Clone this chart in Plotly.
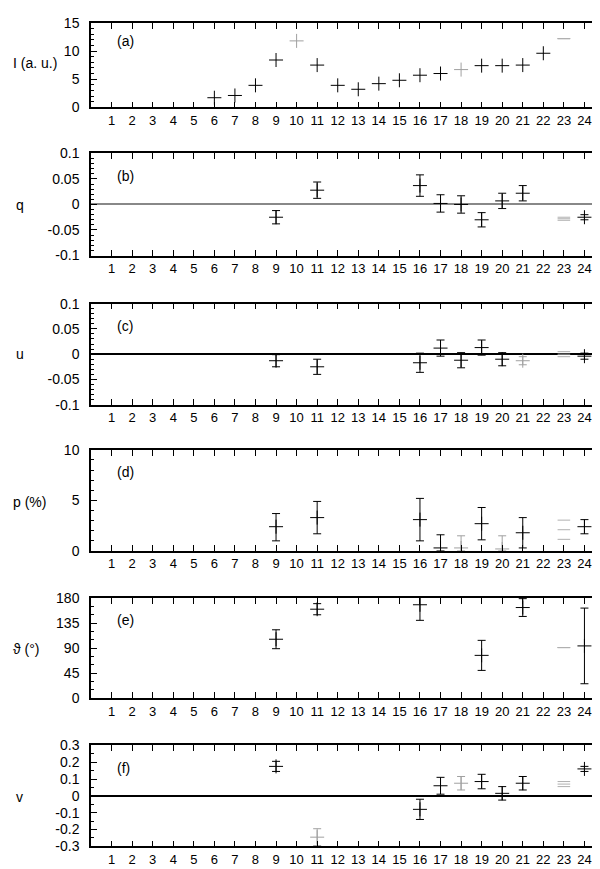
import plotly.graph_objects as go
from plotly.subplots import make_subplots

# every panel shares the same source numbers along x
x_ticks = list(range(1, 25))

# (a) intensity, arbitrary units
x_I = [6, 7, 8, 9, 10, 11, 12, 13, 14, 15, 16, 17, 18, 19, 20, 21, 22, 23]
I_val = [1.7, 2.1, 3.9, 8.4, 11.8, 7.5, 3.9, 3.2, 4.2, 4.8, 5.7, 6.0, 6.7, 7.4, 7.4, 7.5, 9.6, 12.2]
I_style = ["k", "k", "k", "k", "g", "k", "k", "k", "k", "k", "k", "k", "g", "k", "k", "k", "k", "h"]

# (b) q
x_q = [9, 11, 16, 17, 18, 19, 20, 21, 23, 24]
q_val = [-0.025, 0.028, 0.037, 0.002, 0.0, -0.030, 0.007, 0.022, -0.028, -0.025]
q_err = [0.013, 0.016, 0.021, 0.017, 0.017, 0.014, 0.015, 0.015, 0.003, 0.005]
q_style = ["k", "k", "k", "k", "k", "k", "k", "k", "h", "k"]

# (c) u
x_u = [9, 11, 16, 17, 18, 19, 20, 21, 23, 24]
u_val = [-0.013, -0.025, -0.017, 0.012, -0.012, 0.013, -0.010, -0.013, 0.0, -0.004]
u_err = [0.012, 0.015, 0.019, 0.016, 0.015, 0.015, 0.013, 0.008, 0.005, 0.006]
u_style = ["k", "k", "k", "k", "k", "k", "k", "g", "h", "k"]

# (d) p (%), lower bars stop at zero
x_p = [9, 11, 16, 17, 18, 19, 20, 21, 23, 24]
p_val = [2.4, 3.3, 3.1, 0.3, 0.3, 2.7, 0.2, 1.8, 2.1, 2.4]
p_err_up = [1.3, 1.6, 2.1, 1.3, 1.2, 1.6, 1.3, 1.5, 0.95, 0.7]
p_err_dn = [1.4, 1.6, 2.1, 0.3, 0.3, 1.6, 0.2, 1.5, 0.95, 0.7]
p_style = ["k", "k", "k", "k", "g", "k", "g", "k", "h", "k"]

# (e) polarisation angle (deg)
x_t = [9, 11, 16, 19, 21, 23, 24]
t_val = [106, 160, 168, 77, 163, 91, 94]
t_err = [17, 10, 28, 27, 16, 0, 68]
t_style = ["k", "k", "k", "k", "k", "h", "k"]

# (f) v
x_v = [9, 11, 16, 17, 18, 19, 20, 21, 23, 24]
v_val = [0.175, -0.245, -0.08, 0.06, 0.075, 0.085, 0.015, 0.075, 0.07, 0.16]
v_err = [0.03, 0.05, 0.06, 0.05, 0.04, 0.043, 0.04, 0.04, 0.015, 0.015]
v_style = ["k", "g", "k", "k", "g", "k", "k", "k", "h", "k"]

FONT = "Liberation Sans"
W, H = 600, 869

fig = make_subplots(rows=6, cols=1)


def add_points(row, xs, ys, up, dn, styles):
    for kind, color in (("k", "black"), ("g", "#a0a0a0")):
        idx = [i for i, s in enumerate(styles) if s == kind]
        if not idx:
            continue
        err = None
        if up is not None:
            err = dict(type="data", symmetric=False,
                       array=[up[i] for i in idx], arrayminus=[dn[i] for i in idx],
                       color=color, thickness=1, width=4)
        fig.add_trace(go.Scatter(
            x=[xs[i] for i in idx], y=[ys[i] for i in idx], mode="markers",
            marker=dict(symbol="cross-thin", size=10, line=dict(width=1, color=color)),
            error_y=err, hoverinfo="skip"), row=row, col=1)
    # faint points: only the caps and centre dash survive
    hx, hy = [], []
    for i, s in enumerate(styles):
        if s != "h":
            continue
        hx += [xs[i]] * 3
        if up is None:
            hy += [ys[i]] * 3
        else:
            hy += [ys[i], ys[i] + up[i], ys[i] - dn[i]]
    if hx:
        fig.add_trace(go.Scatter(
            x=hx, y=hy, mode="markers",
            marker=dict(symbol="line-ew", size=9, line=dict(width=1, color="#b0b0b0")),
            hoverinfo="skip"), row=row, col=1)


add_points(1, x_I, I_val, None, None, I_style)
add_points(2, x_q, q_val, q_err, q_err, q_style)
add_points(3, x_u, u_val, u_err, u_err, u_style)
add_points(4, x_p, p_val, p_err_up, p_err_dn, p_style)
add_points(5, x_t, t_val, t_err, t_err, t_style)
add_points(6, x_v, v_val, v_err, v_err, v_style)

# pixel rows of each panel frame (top, bottom)
panel_px = [(7, 93), (140, 244), (293, 396), (442, 545), (593, 695), (743, 846)]

yaxes = [
    dict(range=[0, 15], tickvals=[0, 5, 10, 15], ticktext=["0", "5", "10", "15"], minor_dtick=1, zero=None),
    dict(range=[-0.1, 0.1], tickvals=[-0.1, -0.05, 0, 0.05, 0.1],
         ticktext=["-0.1", "-0.05", "0", "0.05", "0.1"], minor_dtick=0.01, zero="#888888"),
    dict(range=[-0.1, 0.1], tickvals=[-0.1, -0.05, 0, 0.05, 0.1],
         ticktext=["-0.1", "-0.05", "0", "0.05", "0.1"], minor_dtick=0.01, zero="black"),
    dict(range=[0, 10], tickvals=[0, 5, 10], ticktext=["0", "5", "10"], minor_dtick=1, zero=None),
    dict(range=[0, 180], tickvals=[0, 45, 90, 135, 180],
         ticktext=["0", "45", "90", "135", "180"], minor_dtick=15, zero=None),
    dict(range=[-0.3, 0.3], tickvals=[-0.3, -0.2, -0.1, 0, 0.1, 0.2, 0.3],
         ticktext=["-0.3", "-0.2", "-0.1", "0", "0.1", "0.2", "0.3"], minor_dtick=0.05, zero="black"),
]

for r in range(1, 7):
    top, bot = panel_px[r - 1]
    ya = yaxes[r - 1]
    fig.update_xaxes(
        domain=[83 / W, 597 / W], range=[0, 25], tickvals=x_ticks,
        ticktext=[str(v) for v in x_ticks], ticks="inside", ticklen=6, tickwidth=1,
        tickcolor="black", showline=True, linecolor="black", linewidth=1.5,
        mirror="allticks", showgrid=False, zeroline=False, ticklabelstandoff=0,
        tickfont=dict(family=FONT, size=13, color="black"),
        row=r, col=1)
    fig.update_yaxes(
        domain=[1 - bot / H, 1 - top / H], range=ya["range"], tickvals=ya["tickvals"],
        ticktext=ya["ticktext"], ticks="inside", ticklen=6, tickwidth=1, tickcolor="black",
        minor=dict(ticks="inside", ticklen=3, dtick=ya["minor_dtick"], tickcolor="black", showgrid=False),
        showline=True, linecolor="black", linewidth=1.5, mirror="allticks", showgrid=False,
        zeroline=ya["zero"] is not None, zerolinecolor=ya["zero"] or "black", zerolinewidth=1.5,
        ticklabelstandoff=7,
        tickfont=dict(family=FONT, size=14, color="black"),
        row=r, col=1)

# panel letters
for r, lab in enumerate(["(a)", "(b)", "(c)", "(d)", "(e)", "(f)"], start=1):
    xr = "x domain" if r == 1 else "x%d domain" % r
    yr = "y domain" if r == 1 else "y%d domain" % r
    fig.add_annotation(text=lab, xref=xr, yref=yr, x=0.047, y=1 - 22 / 100, xanchor="left",
                       yanchor="middle", showarrow=False,
                       font=dict(family=FONT, size=14, color="black"))

# y titles
titles = [
    ("I (a. u.)", 3, 48),
    ("q", 6, 193),
    ("u", 6, 344),
    ("p (%)", 3, 495),
    ("ϑ (°)", 3, 645),
    ("v", 6, 796),
]
for txt, px, py in titles:
    fig.add_annotation(text=txt, xref="paper", yref="paper", x=px / W, y=1 - py / H,
                       xanchor="left", yanchor="middle", showarrow=False,
                       font=dict(family=FONT, size=14, color="black"))

fig.update_layout(
    width=W, height=H, margin=dict(l=0, r=0, t=0, b=0),
    plot_bgcolor="white", paper_bgcolor="white", showlegend=False,
)

fig.write_html("out.html")
